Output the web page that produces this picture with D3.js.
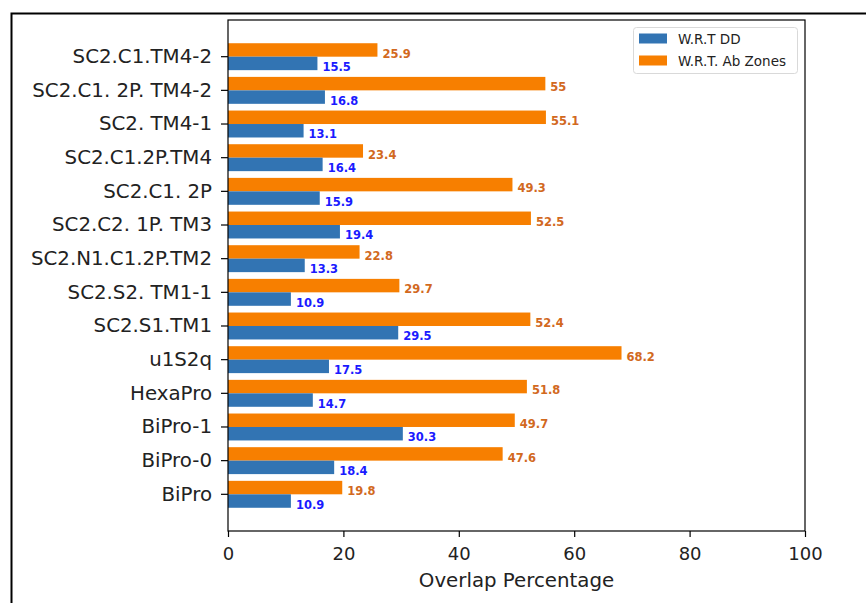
<!DOCTYPE html>
<html>
<head>
<meta charset="utf-8">
<script src="https://cdn.jsdelivr.net/npm/d3@7"></script>
<style>
  body { margin: 0; background: #fff; }
  svg { display: block; font-family: "DejaVu Sans", sans-serif; }
</style>
</head>
<body>
<script>
// categories, top to bottom as drawn
var categories = ["SC2.C1.TM4-2", "SC2.C1. 2P. TM4-2", "SC2. TM4-1", "SC2.C1.2P.TM4",
    "SC2.C1. 2P", "SC2.C2. 1P. TM3", "SC2.N1.C1.2P.TM2", "SC2.S2. TM1-1",
    "SC2.S1.TM1", "u1S2q", "HexaPro", "BiPro-1", "BiPro-0", "BiPro"];
var wrtDD      = [15.5, 16.8, 13.1, 16.4, 15.9, 19.4, 13.3, 10.9, 29.5, 17.5, 14.7, 30.3, 18.4, 10.9];
var wrtAbZones = [25.9, 55, 55.1, 23.4, 49.3, 52.5, 22.8, 29.7, 52.4, 68.2, 51.8, 49.7, 47.6, 19.8];
var xTicks = [0, 20, 40, 60, 80, 100];
var seriesNames = ["W.R.T DD", "W.R.T. Ab Zones"];

var width = 866, height = 603;
var axLeft = 228, axRight = 805, axTop = 20, axBottom = 531;
var blue = "#3274b3", orange = "#f77f00";

var svg = d3.select("body").append("svg")
    .attr("width", width)
    .attr("height", height);

// outer frame (only left and top edges visible)
svg.append("path")
    .attr("d", "M11.5," + height + "V13.5H" + width)
    .attr("fill", "none")
    .attr("stroke", "#000")
    .attr("stroke-width", 2);

var x = d3.scaleLinear().domain([0, 100]).range([axLeft, axRight]);
var y = d3.scaleBand().domain(categories).range([axTop, axBottom])
    .paddingInner(0.2).paddingOuter(0.69);

var half = y.bandwidth() / 2;

var rows = categories.map(function(c, i) {
    return { name: c, dd: wrtDD[i], ab: wrtAbZones[i] };
});

var g = svg.append("g");

// orange bars (upper half of band)
g.selectAll(".ab").data(rows).enter().append("rect")
    .attr("class", "ab")
    .attr("x", x(0))
    .attr("y", function(d) { return y(d.name); })
    .attr("width", function(d) { return x(d.ab) - x(0); })
    .attr("height", half)
    .attr("fill", orange);

// blue bars (lower half)
g.selectAll(".dd").data(rows).enter().append("rect")
    .attr("class", "dd")
    .attr("x", x(0))
    .attr("y", function(d) { return y(d.name) + half; })
    .attr("width", function(d) { return x(d.dd) - x(0); })
    .attr("height", half)
    .attr("fill", blue);

// value labels
g.selectAll(".abl").data(rows).enter().append("text")
    .attr("x", function(d) { return x(d.ab) + 5; })
    .attr("y", function(d) { return y(d.name) + half + 1; })
    .attr("font-size", 11.5)
    .attr("font-weight", "bold")
    .attr("fill", "#d2691e")
    .text(function(d) { return d.ab; });

g.selectAll(".ddl").data(rows).enter().append("text")
    .attr("x", function(d) { return x(d.dd) + 5; })
    .attr("y", function(d) { return y(d.name) + 2 * half + 1; })
    .attr("font-size", 11.5)
    .attr("font-weight", "bold")
    .attr("fill", "#1a1aff")
    .text(function(d) { return d.dd; });

// axes
var xAxis = svg.append("g")
    .attr("transform", "translate(0," + axBottom + ")")
    .call(d3.axisBottom(x).tickValues(xTicks).tickSize(6).tickPadding(10).tickSizeOuter(0));
xAxis.selectAll("text").attr("font-size", 18).attr("fill", "#222").attr("font-family", "DejaVu Sans");

var yAxis = svg.append("g")
    .attr("transform", "translate(" + axLeft + ",0)")
    .call(d3.axisLeft(y).tickSize(7).tickPadding(9).tickSizeOuter(0));
yAxis.selectAll("text").attr("font-size", 19.8).attr("fill", "#222").attr("font-family", "DejaVu Sans");

svg.selectAll(".domain").remove();
svg.selectAll(".tick line").attr("stroke", "#000").attr("stroke-width", 1.2);

// spines
svg.append("rect")
    .attr("x", axLeft).attr("y", axTop)
    .attr("width", axRight - axLeft).attr("height", axBottom - axTop)
    .attr("fill", "none").attr("stroke", "#000").attr("stroke-width", 1.2);

// x axis title
svg.append("text")
    .attr("x", (axLeft + axRight) / 2)
    .attr("y", 587)
    .attr("text-anchor", "middle")
    .attr("font-size", 19.8)
    .attr("fill", "#222")
    .text("Overlap Percentage");

// legend
var legend = svg.append("g");
legend.append("rect")
    .attr("x", 633.5).attr("y", 27.5)
    .attr("width", 164).attr("height", 46)
    .attr("rx", 3)
    .attr("fill", "#fff").attr("stroke", "#d9d9d9");

[blue, orange].forEach(function(col, i) {
    legend.append("rect")
        .attr("x", 639).attr("y", 33.5 + i * 22)
        .attr("width", 28).attr("height", 10)
        .attr("fill", col);
    legend.append("text")
        .attr("x", 678).attr("y", 43.5 + i * 22)
        .attr("font-size", 13.5)
        .attr("fill", "#222")
        .text(seriesNames[i]);
});
</script>
</body>
</html>
